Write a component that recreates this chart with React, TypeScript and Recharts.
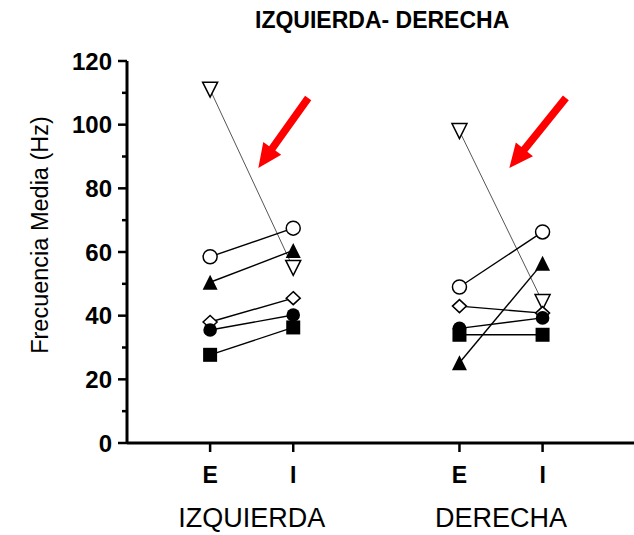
import React from "react";
import {
  ScatterChart,
  Scatter,
  XAxis,
  YAxis,
  ReferenceLine,
} from "recharts";

const FONT = '"Liberation Sans", Arial, sans-serif';

// x positions of the four measurement columns
const X_TICKS = [1, 2, 4, 5];
const X_TICK_LABELS = ["E", "I", "E", "I"];
const GROUP_TICKS = [1.5, 4.5];
const GROUP_LABELS = ["IZQUIERDA", "DERECHA"];
const Y_TICKS = [0, 10, 20, 30, 40, 50, 60, 70, 80, 90, 100, 110, 120];

// one entry per subject, same order everywhere
const MARKERS = [
  "triDownOpen",
  "circleOpen",
  "triUpFilled",
  "diamondOpen",
  "circleFilled",
  "squareFilled",
];
const IZQ_E = [111, 58.5, 50.5, 38, 35.5, 27.7];
const IZQ_I = [55, 67.5, 60.5, 45.5, 40.2, 36.3];
const DER_E = [98, 49, 25.2, 43, 36, 34];
const DER_I = [44.3, 66.3, 56.5, 40.8, 39.3, 34];

// red arrows (tail -> tip), in data units
const ARROWS = [
  [{ x: 2.18, y: 108.4 }, { x: 1.58, y: 86.4 }],
  [{ x: 5.28, y: 108.4 }, { x: 4.6, y: 86.4 }],
];

function Marker({ cx, cy, kind }: any) {
  if (cx == null || cy == null) return null;
  const s = 7.5;
  switch (kind) {
    case "triDownOpen":
      return (
        <polygon
          points={`${cx - s},${cy - s} ${cx + s},${cy - s} ${cx},${cy + s}`}
          fill="#fff"
          stroke="#000"
          strokeWidth={1.5}
        />
      );
    case "circleOpen":
      return <circle cx={cx} cy={cy} r={7} fill="#fff" stroke="#000" strokeWidth={1.5} />;
    case "triUpFilled":
      return (
        <polygon
          points={`${cx - s},${cy + s} ${cx + s},${cy + s} ${cx},${cy - s}`}
          fill="#000"
        />
      );
    case "diamondOpen":
      return (
        <polygon
          points={`${cx},${cy - 6.5} ${cx + 7},${cy} ${cx},${cy + 6.5} ${cx - 7},${cy}`}
          fill="#fff"
          stroke="#000"
          strokeWidth={1.5}
        />
      );
    case "circleFilled":
      return <circle cx={cx} cy={cy} r={6.8} fill="#000" />;
    default:
      return <rect x={cx - 7} y={cy - 7} width={14} height={14} fill="#000" />;
  }
}

function YTick({ x, y, payload }: any) {
  const v = payload.value;
  const major = v % 20 === 0;
  return (
    <g>
      <line x1={x} x2={x - (major ? 9 : 5)} y1={y} y2={y} stroke="#000" strokeWidth={2.5} />
      {major && (
        <text
          x={x - 15}
          y={y}
          textAnchor="end"
          dominantBaseline="central"
          fontFamily={FONT}
          fontWeight="bold"
          fontSize={24}
          fill="#000"
        >
          {v}
        </text>
      )}
    </g>
  );
}

function YLabel({ viewBox }: any) {
  const x = viewBox.x + 48;
  const y = viewBox.y + viewBox.height / 2 - 17;
  return (
    <text
      x={x}
      y={y}
      transform={`rotate(-90, ${x}, ${y})`}
      textAnchor="middle"
      fontFamily={FONT}
      fontSize={23.5}
      fill="#000"
    >
      Frecuencia Media (Hz)
    </text>
  );
}

function Arrow({ x1, y1, x2, y2 }: any) {
  const dx = x2 - x1;
  const dy = y2 - y1;
  const len = Math.hypot(dx, dy);
  const ux = dx / len;
  const uy = dy / len;
  const nx = -uy;
  const ny = ux;
  const head = 24;
  const hw = 11;
  const sw = 3.8;
  const bx = x2 - ux * head;
  const by = y2 - uy * head;
  const pts = [
    [x1 + nx * sw, y1 + ny * sw],
    [bx + nx * sw, by + ny * sw],
    [bx + nx * hw, by + ny * hw],
    [x2, y2],
    [bx - nx * hw, by - ny * hw],
    [bx - nx * sw, by - ny * sw],
    [x1 - nx * sw, y1 - ny * sw],
  ]
    .map((p) => p.join(","))
    .join(" ");
  return <polygon points={pts} fill="#ff0000" />;
}

export default function App() {
  const series = MARKERS.flatMap((kind, i) => [
    {
      key: `izq-${i}`,
      kind,
      data: [
        { x: X_TICKS[0], y: IZQ_E[i] },
        { x: X_TICKS[1], y: IZQ_I[i] },
      ],
    },
    {
      key: `der-${i}`,
      kind,
      data: [
        { x: X_TICKS[2], y: DER_E[i] },
        { x: X_TICKS[3], y: DER_I[i] },
      ],
    },
  ]);

  return (
    <div style={{ position: "absolute", left: 0, top: 0, width: 634, height: 535, background: "#fff" }}>
      <div
        style={{
          position: "absolute",
          left: 255,
          top: 9,
          fontFamily: FONT,
          fontWeight: "bold",
          fontSize: 23,
          lineHeight: 1,
          whiteSpace: "nowrap",
        }}
      >
        IZQUIERDA- DERECHA
      </div>
      <ScatterChart
        width={634}
        height={535}
        margin={{ top: 61, right: 0, left: 0, bottom: 0 }}
      >
        <XAxis
          type="number"
          dataKey="x"
          domain={[0, 6.1]}
          ticks={X_TICKS}
          interval={0}
          tickFormatter={(v) => X_TICK_LABELS[X_TICKS.indexOf(v)] ?? ""}
          height={45}
          tickSize={9}
          tickMargin={15}
          axisLine={{ stroke: "#000", strokeWidth: 3 }}
          tickLine={{ stroke: "#000", strokeWidth: 2.5 }}
          tick={{ fill: "#000", fontSize: 23, fontWeight: "bold", fontFamily: FONT }}
          allowDataOverflow
        />
        <XAxis
          xAxisId="grp"
          type="number"
          dataKey="x"
          domain={[0, 6.1]}
          ticks={GROUP_TICKS}
          interval={0}
          tickFormatter={(v) => GROUP_LABELS[GROUP_TICKS.indexOf(v)] ?? ""}
          height={47}
          tickSize={0}
          tickMargin={20}
          axisLine={false}
          tickLine={false}
          tick={{ fill: "#000", fontSize: 27, fontFamily: FONT }}
          allowDataOverflow
        />
        <YAxis
          type="number"
          dataKey="y"
          domain={[0, 120]}
          ticks={Y_TICKS}
          interval={0}
          width={127}
          tickSize={0}
          tickMargin={0}
          tickLine={false}
          axisLine={{ stroke: "#000", strokeWidth: 3 }}
          tick={<YTick />}
          label={<YLabel />}
        />
        {series.map((s) => (
          <Scatter
            key={s.key}
            data={s.data}
            line={{
              stroke: s.kind === "triDownOpen" ? "#555" : "#000",
              strokeWidth: s.kind === "triDownOpen" ? 1 : 1.4,
            }}
            shape={(p: any) => <Marker cx={p.cx} cy={p.cy} kind={s.kind} />}
            isAnimationActive={false}
          />
        ))}
        {ARROWS.map((seg, i) => (
          <ReferenceLine key={i} segment={seg} shape={(p: any) => <Arrow {...p} />} />
        ))}
      </ScatterChart>
    </div>
  );
}
